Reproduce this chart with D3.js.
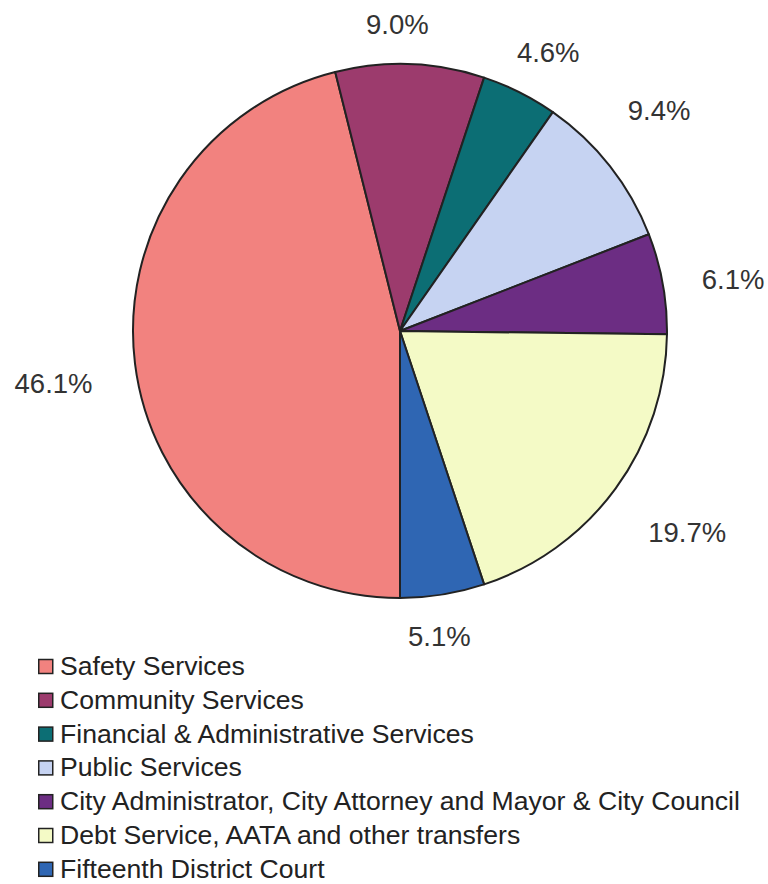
<!DOCTYPE html>
<html>
<head>
<meta charset="utf-8">
<script src="https://cdn.jsdelivr.net/npm/d3@7"></script>
<style>
  html, body { margin: 0; padding: 0; background: #ffffff; }
  svg { display: block; }
  text { font-family: "Liberation Sans", Arial, sans-serif; }
</style>
</head>
<body>
<svg id="chart" width="768" height="884"></svg>
<script>
// General Fund expenditures by service area (percent of total)
const categories = [
  "Safety Services",
  "Community Services",
  "Financial & Administrative Services",
  "Public Services",
  "City Administrator, City Attorney and Mayor & City Council",
  "Debt Service, AATA and other transfers",
  "Fifteenth District Court"
];
const shares = [46.1, 9.0, 4.6, 9.4, 6.1, 19.7, 5.1];
const sliceColors = ["#f2827f", "#9c3b6d", "#0c6e74", "#c6d3f2", "#6c2d83", "#f4fac6", "#2f66b3"];

// Small hand adjustments to the computed label spots, [dx, dy]
const labelNudge = [[-13, 14], [-15, 4], [1, -1], [1, -29], [10, 4], [16, 18], [-13, -2]];

const svg = d3.select("#chart");
const cx = 400, cy = 331, radius = 267;

const pie = d3.pie()
  .sort(null)
  .startAngle(Math.PI)
  .endAngle(3 * Math.PI)
  .value(d => d);

const arcs = pie(shares);
const arc = d3.arc().innerRadius(0).outerRadius(radius);
const color = d3.scaleOrdinal().domain(categories).range(sliceColors);

const g = svg.append("g").attr("transform", `translate(${cx},${cy})`);

g.selectAll("path.slice")
  .data(arcs)
  .join("path")
  .attr("class", "slice")
  .attr("d", arc)
  .attr("fill", (d, i) => color(categories[i]))
  .attr("stroke", "#222")
  .attr("stroke-width", 2)
  .attr("stroke-linejoin", "round");

// Percentage labels set just outside the rim, box pushed outward along the slice's mid-angle
const gap = 30, boxH = 28, labelSize = 27.5;
const labels = g.selectAll("text.pct")
  .data(arcs)
  .join("text")
  .attr("class", "pct")
  .attr("font-size", labelSize)
  .attr("fill", "#333")
  .attr("text-anchor", "middle")
  .text(d => d3.format(".1f")(d.value) + "%");

labels.each(function(d, i) {
  const t = d3.select(this);
  const w = this.getComputedTextLength();
  const mid = (d.startAngle + d.endAngle) / 2;
  const ux = Math.sin(mid), uy = -Math.cos(mid);
  const x = (radius + gap) * ux + (w / 2) * ux + labelNudge[i][0];
  const y = (radius + gap) * uy + (boxH / 2) * uy + labelNudge[i][1];
  t.attr("x", x).attr("y", y + labelSize * 0.358);
});

// Legend
const legendX = 38, legendTop = 675, rowH = 33.8, sw = 14;
const legend = svg.append("g");
const rows = legend.selectAll("g.row")
  .data(categories)
  .join("g")
  .attr("class", "row")
  .attr("transform", (d, i) => `translate(${legendX},${legendTop + i * rowH})`);

rows.append("rect")
  .attr("x", 0.75)
  .attr("y", -15.5)
  .attr("width", sw)
  .attr("height", sw)
  .attr("fill", d => color(d))
  .attr("stroke", "#222")
  .attr("stroke-width", 1.5);

rows.append("text")
  .attr("x", 22)
  .attr("y", 0)
  .attr("font-size", 26.6)
  .attr("fill", "#222")
  .text(d => d);
</script>
</body>
</html>
